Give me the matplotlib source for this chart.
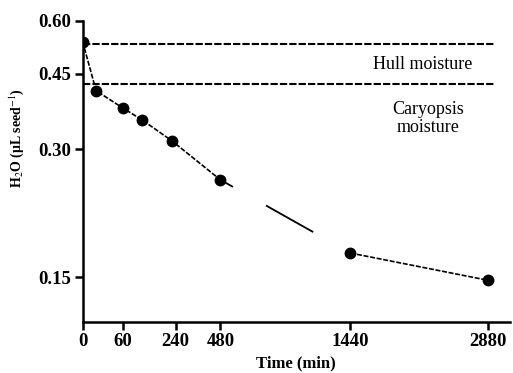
import numpy as np
import matplotlib
matplotlib.use('Agg')
import matplotlib.pyplot as plt

# data
time_min = [0, 20, 60, 125, 227, 480, 1440, 2880]
water = [0.536, 0.411, 0.374, 0.351, 0.3135, 0.254, 0.171, 0.1476]
hull_level = 0.53
caryopsis_level = 0.4266
xtick_vals = [0, 60, 240, 480, 1440, 2880]
ytick_vals = [0.15, 0.30, 0.45, 0.60]

# the time axis is stretched unevenly in the original figure
anchor_t = np.array([0, 60, 240, 480, 1440, 2880, 3500])
anchor_u = np.array([0, 40.6, 93.3, 138.0, 268.3, 406.0, 468.0])
def fwd(t):
    return np.interp(t, anchor_t, anchor_u)
def inv(u):
    return np.interp(u, anchor_u, anchor_t)

plt.rcParams['font.family'] = ['Liberation Serif', 'DejaVu Serif']
plt.rcParams['mathtext.fontset'] = 'stix'

fig = plt.figure(figsize=(5.13, 3.73), dpi=100)
ax = fig.add_axes([0.161, 0.1375, 0.833, 0.807])
ax.set_xscale('function', functions=(fwd, inv))
ax.set_yscale('log')

# horizontal moisture levels
ax.hlines([hull_level, caryopsis_level], 0, 2950, colors='black', lw=1.5,
          linestyles=(0, (3.5, 1)))

# measured points, joined by fine dashes (gap between 480 and 1440 drawn apart)
ax.plot(time_min[0:6], water[0:6], color='black', lw=1.2, ls=(0, (3, 1)),
        marker='o', ms=7.5)
ax.plot(time_min[6:8], water[6:8], color='black', lw=1.2, ls=(0, (3, 1)),
        marker='o', ms=7.5)
ax.plot(time_min[5:7], water[5:7], color='black', lw=1.3,
        ls=(0, (8, 21, 30, 100)))

ax.text(2193, 0.4725, 'Hull moisture', ha='center', va='center', fontsize=13)
ax.text(2256, 0.354, 'Caryopsis\nmoisture', ha='center', va='center',
        fontsize=13, linespacing=1.05)

ax.set_xlim(0, 3100)
ax.set_ylim(0.118, 0.6)
ax.set_xticks(xtick_vals)
ax.set_xticklabels([str(v) for v in xtick_vals])
ax.set_yticks(ytick_vals)
ax.set_yticklabels(['%.2f' % v for v in ytick_vals])
ax.yaxis.set_minor_locator(matplotlib.ticker.NullLocator())
ax.xaxis.set_minor_locator(matplotlib.ticker.NullLocator())
for lab in ax.get_xticklabels() + ax.get_yticklabels():
    lab.set_fontweight('bold')
    lab.set_fontsize(13.5)

ax.spines['top'].set_visible(False)
ax.spines['right'].set_visible(False)
ax.spines['left'].set_linewidth(1.8)
ax.spines['bottom'].set_linewidth(1.8)
ax.tick_params(direction='out', length=6, width=1.8, pad=2)

ax.set_xlabel('Time (min)', fontsize=12, fontweight='bold', labelpad=4)
ax.set_ylabel('H$_2$O (μL seed$^{-1}$)', fontsize=10, fontweight='bold')
ax.yaxis.set_label_coords(-0.133, 0.61)

fig.savefig('out.png', dpi=100)
